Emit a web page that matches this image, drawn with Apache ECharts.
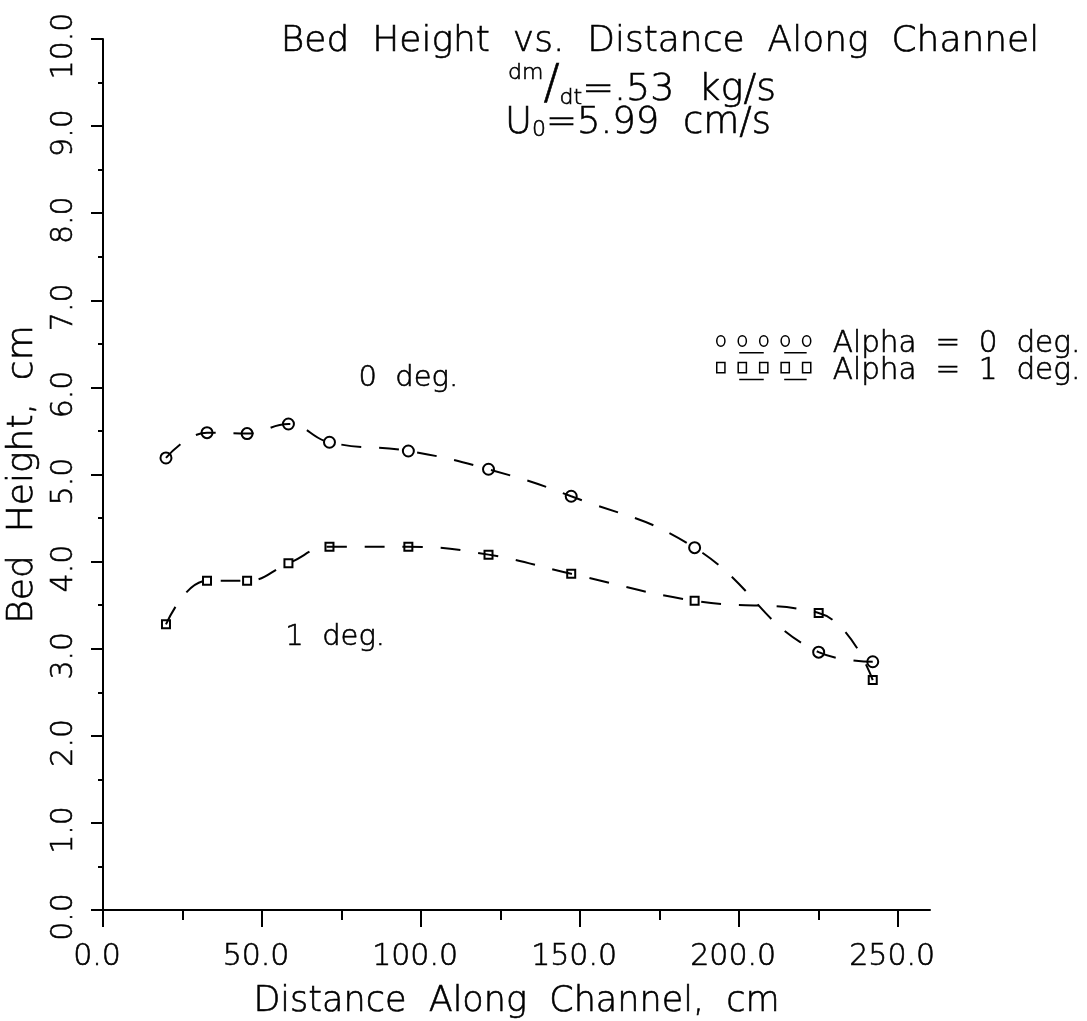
<!DOCTYPE html>
<html>
<head>
<meta charset="utf-8">
<title>Bed Height vs. Distance Along Channel</title>
<script src="https://cdn.jsdelivr.net/npm/echarts@6/dist/echarts.min.js"></script>
<style>
  html, body { margin: 0; padding: 0; background: #fff; }
  #chart { width: 1087px; height: 1021px; }
</style>
</head>
<body>
<div id="chart"></div>
<script>
// Measurement stations along the channel (cm)
const distance = [19.8, 32.7, 45.3, 58.3, 71.2, 96.0, 121.2, 147.2, 186.0, 225.0, 242.0];
// Bed height (cm) for the two channel inclinations
const alpha0 = [5.19, 5.48, 5.47, 5.58, 5.37, 5.27, 5.06, 4.75, 4.16, 2.96, 2.85];
const alpha1 = [3.28, 3.78, 3.78, 3.98, 4.17, 4.17, 4.08, 3.86, 3.55, 3.41, 2.64];
const seriesNames = ['Alpha  =  0  deg.', 'Alpha  =  1  deg.'];

// Axis tick values
const xMajorTicks = [0, 50, 100, 150, 200, 250];
const xMinorTicks = [25, 75, 125, 175, 225];
const yMajorTicks = [0, 1, 2, 3, 4, 5, 6, 7, 8, 9, 10];

// Curve annotations: [x, y, text]
const annotations = [
  [96, 6.1, '0  deg.'],
  [73, 3.13, '1  deg.']
];

const TEXT_FONT = '"DejaVu Sans", sans-serif';
const TEXT_WEIGHT = 200;
const INK = '#000';

const pairs = (xs, ys) => xs.map((x, i) => [x, ys[i]]);

// Legend sample: five open circles / squares with two short dashes below
const circleIcon = 'path://' +
  [4, 25, 46, 67, 88].map(cx => `M${cx - 4},6a4,4 0 1,0 8,0a4,4 0 1,0 -8,0Z`).join('') +
  'M22,15L46,15M66,15L88,15';
const squareIcon = 'path://' +
  [4, 25, 46, 67, 88].map(cx => `M${cx - 4},2L${cx + 4},2L${cx + 4},10L${cx - 4},10Z`).join('') +
  'M22,15L46,15M66,15L88,15';

const chart = echarts.init(document.getElementById('chart'), null, { renderer: 'canvas' });

const lineCommon = {
  type: 'line',
  smooth: 0.45,
  lineStyle: { color: INK, width: 2, type: [20, 18] },
  itemStyle: { color: 'rgba(0,0,0,0)', borderColor: INK, borderWidth: 2 },
  emphasis: { disabled: true },
  z: 3
};

// Thin plotter-style lettering, given a faint outline so strokes read solid black
const textLabel = (size) => ({
  fontFamily: TEXT_FONT, fontWeight: TEXT_WEIGHT, fontSize: size, color: INK,
  textBorderColor: INK, textBorderWidth: 0.6
});

chart.setOption({
  animation: false,
  backgroundColor: '#fff',
  textStyle: { fontFamily: TEXT_FONT, fontWeight: TEXT_WEIGHT, color: INK },
  title: [
    {
      text: 'Bed  Height  vs.  Distance  Along  Channel',
      left: 655, top: 19, textAlign: 'center',
      textStyle: textLabel(36)
    },
    {
      text: '{sup|dm}{sl|/}{sub|dt}{n|=.53  kg/s}',
      left: 637, top: 57, textAlign: 'center',
      textStyle: Object.assign(textLabel(38), {
        rich: {
          sup: Object.assign(textLabel(22), { verticalAlign: 'top', padding: [0, 0, 20, 0] }),
          sl: textLabel(48),
          sub: Object.assign(textLabel(22), { padding: [24, 0, 0, 0] }),
          n: Object.assign(textLabel(38), { padding: [8, 0, 0, 0] })
        }
      })
    },
    {
      text: 'U{sub|0}{n|=5.99  cm/s}',
      left: 633, top: 100, textAlign: 'center',
      textStyle: Object.assign(textLabel(37), {
        rich: {
          sub: Object.assign(textLabel(22), { padding: [14, 0, 0, 0] }),
          n: textLabel(37)
        }
      })
    }
  ],
  legend: {
    orient: 'vertical',
    left: 711, top: 324,
    itemWidth: 94, itemHeight: 17, itemGap: -4,
    selectedMode: false,
    symbolKeepAspect: false,
    itemStyle: { color: 'rgba(0,0,0,0)', borderColor: INK, borderWidth: 1.5 },
    textStyle: Object.assign(textLabel(29.5), { padding: [0, 0, 0, 17] }),
    data: [
      { name: seriesNames[0], icon: circleIcon },
      { name: seriesNames[1], icon: squareIcon }
    ]
  },
  grid: { left: 103, right: 157, top: 39, bottom: 111, containLabel: false, outerBoundsMode: 'none' },
  xAxis: [
    {
      type: 'value', min: 0, max: 260,
      name: 'Distance  Along  Channel,  cm',
      nameLocation: 'middle', nameGap: 74,
      nameTextStyle: textLabel(35),
      axisLine: { show: true, onZero: false, lineStyle: { color: INK, width: 2 } },
      axisTick: { show: true, length: 17, lineStyle: { color: INK, width: 2 }, customValues: xMajorTicks },
      axisLabel: Object.assign(textLabel(30), {
        customValues: xMajorTicks, margin: 32,
        padding: [0, 12, 0, 0],
        formatter: v => v.toFixed(1)
      }),
      splitLine: { show: false }
    },
    {
      type: 'value', min: 0, max: 260, position: 'bottom',
      axisLine: { show: false },
      axisTick: { show: true, length: 10, lineStyle: { color: INK, width: 2 }, customValues: xMinorTicks },
      axisLabel: { show: false },
      splitLine: { show: false }
    }
  ],
  yAxis: {
    type: 'value', min: 0, max: 10, interval: 1,
    name: 'Bed  Height,  cm',
    nameLocation: 'middle', nameGap: 62, nameRotate: 90,
    nameTextStyle: textLabel(36),
    axisLine: { show: true, onZero: false, lineStyle: { color: INK, width: 2 } },
    axisTick: { show: true, length: 12, lineStyle: { color: INK, width: 2 } },
    minorTick: { show: true, splitNumber: 2, length: 5, lineStyle: { color: INK, width: 2 } },
    axisLabel: Object.assign(textLabel(30), {
      customValues: yMajorTicks, rotate: 90, margin: 24,
      padding: [0, 14, 0, 0],
      formatter: v => v.toFixed(1)
    }),
    splitLine: { show: false }
  },
  series: [
    Object.assign({}, lineCommon, {
      name: seriesNames[0],
      data: pairs(distance, alpha0),
      symbol: 'circle', symbolSize: 11,
      markPoint: {
        symbol: 'circle', symbolSize: 1,
        itemStyle: { color: 'rgba(0,0,0,0)' },
        label: Object.assign(textLabel(29), { show: true, position: 'inside', formatter: p => p.name }),
        data: [{ coord: [annotations[0][0], annotations[0][1]], name: annotations[0][2] }]
      }
    }),
    Object.assign({}, lineCommon, {
      name: seriesNames[1],
      data: pairs(distance, alpha1),
      symbol: 'rect', symbolSize: 8,
      markPoint: {
        symbol: 'circle', symbolSize: 1,
        itemStyle: { color: 'rgba(0,0,0,0)' },
        label: Object.assign(textLabel(29), { show: true, position: 'inside', formatter: p => p.name }),
        data: [{ coord: [annotations[1][0], annotations[1][1]], name: annotations[1][2] }]
      }
    })
  ]
});
</script>
</body>
</html>
